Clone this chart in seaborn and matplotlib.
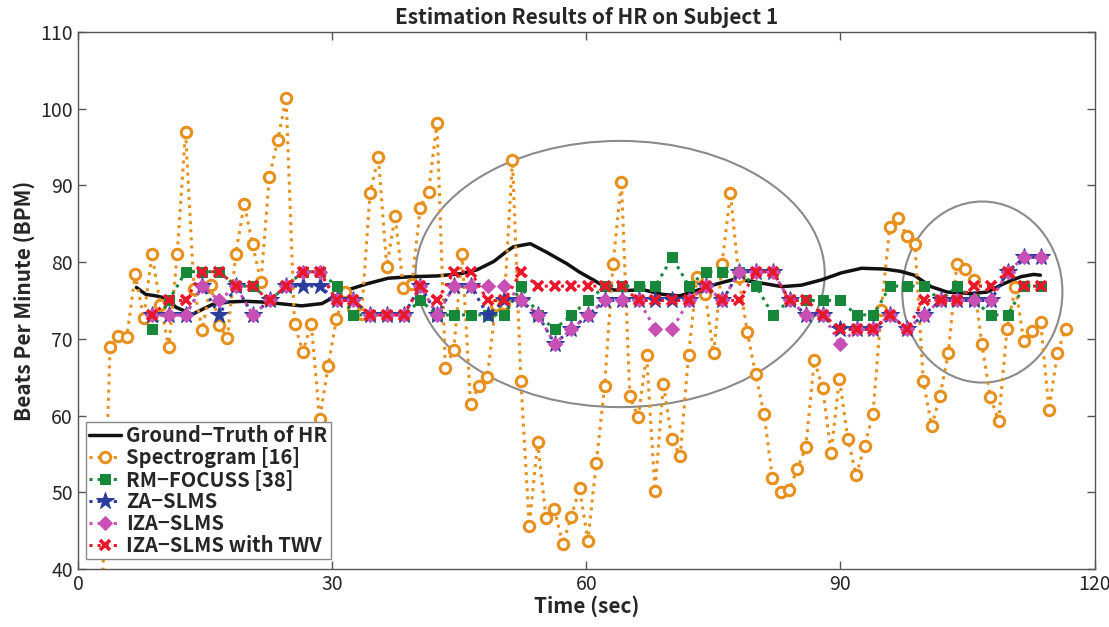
import numpy as np
import pandas as pd
import matplotlib
matplotlib.use('Agg')
import matplotlib.pyplot as plt
from matplotlib.patches import Ellipse
import seaborn as sns

gt_time = [6.9, 8.0, 9.2, 10.4, 11.6, 13.5, 15.9, 17.8, 19.7, 21.7, 23.7, 26.4, 28.8,
           30.1, 31.9, 34.2, 36.6, 39.3, 42.4, 45.2, 47.1, 49.1, 50.6, 51.4, 53.4,
           55.3, 57.7, 59.2, 60.8, 62.8, 64.7, 66.7, 69.0, 71.0, 72.5, 74.9, 77.6,
           80.0, 83.1, 85.4, 87.8, 90.1, 92.5, 95.2, 97.1, 98.7, 100.7, 102.6, 105.4,
           107.3, 109.3, 111.3, 112.8, 113.6]
gt_bpm = [76.7, 75.8, 75.6, 75.3, 74.1, 73.2, 74.5, 74.8, 74.9, 74.8, 74.6, 74.3, 74.6,
          75.4, 76.4, 77.2, 77.9, 78.1, 78.2, 78.5, 79.0, 80.1, 81.4, 82.0, 82.4,
          81.3, 79.8, 78.7, 77.7, 76.4, 76.3, 76.4, 75.8, 75.6, 76.1, 77.0, 77.8,
          77.4, 76.8, 77.0, 77.7, 78.6, 79.2, 79.1, 78.8, 78.3, 76.8, 76.1, 75.9,
          76.1, 77.2, 78.1, 78.4, 78.3]

# spectrogram estimate, one per second
spec_time = np.round(np.linspace(2.8, 116.6, 116), 2)
spec_bpm = [34.5, 68.9, 70.4, 70.3, 78.4, 72.7, 81.0, 74.4, 68.9, 81.0,
            97.0, 76.5, 71.2, 77.0, 71.8, 70.1, 81.1, 87.6, 82.3, 77.4,
            91.1, 95.9, 101.4, 71.9, 68.3, 72.0, 59.5, 66.4, 72.6, 76.1,
            74.0, 73.2, 89.0, 93.7, 79.4, 86.0, 76.6, 77.1, 87.1, 89.2,
            98.2, 66.2, 68.6, 81.1, 61.5, 63.9, 65.0, 74.4, 74.5, 93.3,
            64.5, 45.6, 56.5, 46.6, 47.8, 43.2, 46.8, 50.5, 43.7, 53.8,
            63.9, 79.8, 90.5, 62.5, 59.8, 67.9, 50.2, 64.1, 57.0, 54.7,
            67.9, 78.0, 75.8, 68.1, 79.8, 89.0, 78.0, 70.9, 65.4, 60.2,
            51.9, 50.1, 50.3, 53.1, 55.9, 67.2, 63.6, 55.1, 64.8, 57.0,
            52.2, 56.0, 60.2, 73.8, 84.6, 85.7, 83.4, 82.4, 64.5, 58.6,
            62.6, 68.2, 79.8, 79.1, 77.7, 69.3, 62.4, 59.3, 71.3, 76.8,
            69.7, 71.0, 72.2, 60.7, 68.2, 71.3]

# sparse-recovery methods, one estimate every ~2 s
alg_time = np.round(np.linspace(8.75, 113.7, 54), 2)
focuss_bpm = [71.25, 75.0, 78.75, 78.75, 78.75, 76.875, 76.875, 75.0, 76.875, 78.75,
              78.75, 76.875, 73.125, 73.125, 73.125, 73.125, 75.0, 73.125, 73.125, 73.125,
              73.125, 73.125, 76.875, 73.125, 71.25, 73.125, 75.0, 76.875, 76.875, 76.875,
              76.875, 80.625, 76.875, 78.75, 78.75, 78.75, 76.875, 73.125, 75.0, 75.0,
              75.0, 75.0, 73.125, 73.125, 76.875, 76.875, 76.875, 75.0, 76.875, 75.0,
              73.125, 73.125, 76.875, 76.875]
za_bpm = [73.125, 73.125, 73.125, 76.875, 73.125, 76.875, 73.125, 75.0, 76.875, 76.875,
          76.875, 75.0, 75.0, 73.125, 73.125, 73.125, 76.875, 73.125, 76.875, 76.875,
          73.125, 75.0, 75.0, 73.125, 69.375, 71.25, 73.125, 75.0, 75.0, 75.0,
          75.0, 75.0, 75.0, 76.875, 75.0, 78.75, 78.75, 78.75, 75.0, 73.125,
          73.125, 71.25, 71.25, 71.25, 73.125, 71.25, 73.125, 75.0, 75.0, 75.0,
          75.0, 78.75, 80.625, 80.625]
iza_bpm = [73.125, 73.125, 73.125, 76.875, 75.0, 76.875, 73.125, 75.0, 76.875, 78.75,
           78.75, 75.0, 75.0, 73.125, 73.125, 73.125, 76.875, 73.125, 76.875, 76.875,
           76.875, 76.875, 75.0, 73.125, 69.375, 71.25, 73.125, 75.0, 75.0, 75.0,
           71.25, 71.25, 75.0, 76.875, 75.0, 78.75, 78.75, 78.75, 75.0, 73.125,
           73.125, 69.375, 71.25, 71.25, 73.125, 71.25, 73.125, 75.0, 75.0, 75.0,
           75.0, 78.75, 80.625, 80.625]
twv_bpm = [73.125, 75.0, 75.0, 78.75, 78.75, 76.875, 76.875, 75.0, 76.875, 78.75,
           78.75, 75.0, 75.0, 73.125, 73.125, 73.125, 76.875, 75.0, 78.75, 78.75,
           75.0, 75.0, 78.75, 76.875, 76.875, 76.875, 76.875, 76.875, 76.875, 75.0,
           75.0, 75.0, 75.0, 76.875, 75.0, 75.0, 78.75, 78.75, 75.0, 75.0,
           73.125, 71.25, 71.25, 71.25, 73.125, 71.25, 75.0, 75.0, 75.0, 76.875,
           76.875, 78.75, 76.875, 76.875]

x_ticks = [0, 30, 60, 90, 120]
y_ticks = [40, 50, 60, 70, 80, 90, 100, 110]

sns.set_style('ticks')
plt.rcParams['font.family'] = ['Noto Sans CJK JP', 'DejaVu Sans']

fig = plt.figure(figsize=(11.09, 6.27), dpi=100)
ax = fig.add_axes([0.0703, 0.0925, 0.9167, 0.8565])

sns.lineplot(x=gt_time, y=gt_bpm, ax=ax, color='#111111', lw=2.5,
             label='Ground\u2212Truth of HR')
sns.lineplot(x=spec_time, y=spec_bpm, ax=ax, color='#E8901E', lw=2.2, linestyle=':',
             marker='o', markersize=7.5, markerfacecolor='white', markeredgecolor='#E8901E',
             markeredgewidth=2.2, label='Spectrogram [16]')
sns.lineplot(x=alg_time, y=focuss_bpm, ax=ax, color='#17873A', lw=2.2, linestyle=':',
             marker='s', markersize=6.5, markeredgecolor='#17873A', label='RM\u2212FOCUSS [38]')
sns.lineplot(x=alg_time, y=za_bpm, ax=ax, color='#2B3C9C', lw=2.2, linestyle=':',
             marker='*', markersize=13, markeredgecolor='#2B3C9C', label='ZA\u2212SLMS')
sns.lineplot(x=alg_time, y=iza_bpm, ax=ax, color='#C84FB4', lw=2.2, linestyle=':',
             marker='D', markersize=7, markeredgecolor='#C84FB4', label='IZA\u2212SLMS')
sns.lineplot(x=alg_time, y=twv_bpm, ax=ax, color='#E8182C', lw=2.2, linestyle=':',
             marker='x', markersize=7, markeredgewidth=2.6, markeredgecolor='#E8182C',
             label='IZA\u2212SLMS with TWV')

# highlighted regions
ax.add_patch(Ellipse((64.0, 78.45), 48.3, 34.7, fill=False, edgecolor='#8a8a8a', lw=1.5))
ax.add_patch(Ellipse((106.75, 76.1), 18.9, 23.6, fill=False, edgecolor='#8a8a8a', lw=1.5))

ax.set_xlim(0, 120)
ax.set_ylim(40, 110)
ax.set_xticks(x_ticks)
ax.set_yticks(y_ticks)
ax.tick_params(direction='in', top=True, right=True, length=6, width=1,
               labelsize=14, color='#555555')
for sp in ax.spines.values():
    sp.set_color('#555555')
    sp.set_linewidth(1.0)

ax.set_title('Estimation Results of HR on Subject 1', fontsize=15, fontweight='bold', pad=6)
ax.set_xlabel('Time (sec)', fontsize=15, fontweight='bold', labelpad=0)
ax.set_ylabel('Beats Per Minute (BPM)', fontsize=15, fontweight='bold', labelpad=4)

leg = ax.legend(loc='lower left', bbox_to_anchor=(0.008, 0.018), borderaxespad=0,
                fontsize=14.5, handlelength=1.6, handletextpad=0.25, labelspacing=0.05,
                borderpad=0.15, fancybox=False, framealpha=1, edgecolor='#888888')
for txt in leg.get_texts():
    txt.set_fontweight('bold')

fig.savefig('out.png', dpi=100)
